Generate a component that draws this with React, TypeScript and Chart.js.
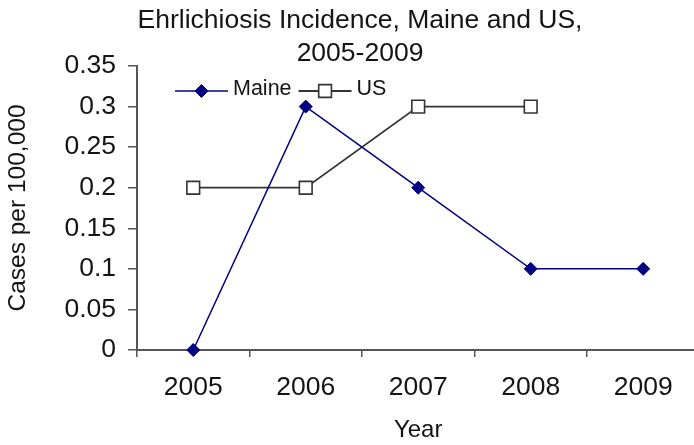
import React, { useEffect, useRef } from 'react';
import { Chart, registerables } from 'chart.js';

Chart.register(...registerables);

const years = ['2005', '2006', '2007', '2008', '2009'];
const maineValues = [0, 0.3, 0.2, 0.1, 0.1];
const usValues: (number | null)[] = [0.2, 0.2, 0.3, 0.3, null];
const yTickLabels = ['0', '0.05', '0.1', '0.15', '0.2', '0.25', '0.3', '0.35'];
const titleLines = ['Ehrlichiosis Incidence, Maine and US,', '2005-2009'];
const xTitle = 'Year';
const yTitle = 'Cases per 100,000';

const FONT = "'Liberation Sans', Arial, sans-serif";
const TEXT = '#141414';
const AXIS = '#555555';

function drawMarker(ctx: CanvasRenderingContext2D, style: string, x: number, y: number, r: number, fill: string, stroke: string, lw: number) {
  ctx.save();
  ctx.beginPath();
  if (style === 'rectRot') {
    ctx.moveTo(x - r, y);
    ctx.lineTo(x, y - r);
    ctx.lineTo(x + r, y);
    ctx.lineTo(x, y + r);
    ctx.closePath();
  } else {
    const s = Math.SQRT1_2 * r;
    ctx.rect(x - s, y - s, 2 * s, 2 * s);
  }
  ctx.fillStyle = fill;
  ctx.fill();
  ctx.lineWidth = lw;
  ctx.strokeStyle = stroke;
  ctx.stroke();
  ctx.restore();
}

const titlePlugin = {
  id: 'customTitle',
  afterDraw(chart: any) {
    const ctx = chart.ctx as CanvasRenderingContext2D;
    ctx.save();
    ctx.font = `26.5px ${FONT}`;
    ctx.fillStyle = TEXT;
    ctx.textAlign = 'center';
    ctx.textBaseline = 'alphabetic';
    const cx = 360;
    titleLines.forEach((line, i) => ctx.fillText(line, cx, 28 + i * 33));
    ctx.restore();
  },
};

const legendPlugin = {
  id: 'customLegend',
  afterDraw(chart: any) {
    const ctx = chart.ctx as CanvasRenderingContext2D;
    const area = chart.chartArea;
    let x = area.left + 38;
    const y = area.top + 25;
    ctx.save();
    ctx.font = `21.5px ${FONT}`;
    chart.data.datasets.forEach((ds: any) => {
      const lineLen = 53;
      ctx.beginPath();
      ctx.moveTo(x, y);
      ctx.lineTo(x + lineLen, y);
      ctx.strokeStyle = ds.borderColor;
      ctx.lineWidth = ds.borderWidth;
      ctx.stroke();
      drawMarker(ctx, ds.pointStyle, x + lineLen / 2, y, ds.pointRadius, ds.pointBackgroundColor, ds.pointBorderColor, ds.pointBorderWidth);
      ctx.fillStyle = TEXT;
      ctx.textAlign = 'left';
      ctx.textBaseline = 'alphabetic';
      const tx = x + lineLen + 5;
      ctx.fillText(ds.label, tx, y + 4);
      x = tx + ctx.measureText(ds.label).width + 7;
    });
    ctx.restore();
  },
};

export default function App() {
  const ref = useRef<HTMLCanvasElement | null>(null);

  useEffect(() => {
    if (!ref.current) return;
    const chart = new Chart(ref.current, {
      type: 'line',
      data: {
        labels: years,
        datasets: [
          {
            label: 'Maine',
            data: maineValues,
            borderColor: '#000080',
            backgroundColor: '#000080',
            borderWidth: 1.5,
            pointStyle: 'rectRot',
            pointRadius: 6.5,
            pointHoverRadius: 6.5,
            pointBackgroundColor: '#000080',
            pointBorderColor: '#000080',
            pointBorderWidth: 1,
            tension: 0,
            clip: false,
          } as any,
          {
            label: 'US',
            data: usValues,
            borderColor: '#333333',
            backgroundColor: '#ffffff',
            borderWidth: 1.8,
            pointStyle: 'rect',
            pointRadius: 9,
            pointHoverRadius: 9,
            pointBackgroundColor: '#ffffff',
            pointBorderColor: '#333333',
            pointBorderWidth: 1.6,
            tension: 0,
            spanGaps: false,
            clip: false,
          } as any,
        ],
      },
      options: {
        animation: false,
        responsive: false,
        devicePixelRatio: 1,
        layout: { padding: { top: 66, right: 2, bottom: 0, left: 0 } },
        plugins: {
          legend: { display: false },
          title: { display: false },
          tooltip: { enabled: false },
        },
        scales: {
          x: {
            type: 'category',
            offset: true,
            grid: {
              display: true,
              drawOnChartArea: false,
              drawTicks: true,
              tickLength: 7,
              offset: true,
              color: AXIS,
              lineWidth: 1.5,
            },
            border: { display: true, color: AXIS, width: 2 },
            ticks: {
              font: { size: 26.5, family: FONT },
              color: TEXT,
              padding: 15,
              maxRotation: 0,
              autoSkip: false,
            },
            title: {
              display: true,
              text: xTitle,
              font: { size: 24, family: FONT },
              color: TEXT,
              padding: { top: 0, bottom: 0 },
            },
            afterFit: (s: any) => {
              s.height = 95;
            },
          },
          y: {
            min: 0,
            max: 0.35,
            grid: {
              display: true,
              drawOnChartArea: false,
              drawTicks: true,
              tickLength: 9,
              color: AXIS,
              lineWidth: 1.5,
            },
            border: { display: true, color: AXIS, width: 2 },
            ticks: {
              stepSize: 0.05,
              font: { size: 26.5, family: FONT },
              color: TEXT,
              padding: 12,
              callback: (_v: any, i: number) => yTickLabels[i],
            },
            title: {
              display: true,
              text: yTitle,
              font: { size: 24.5, family: FONT },
              color: TEXT,
              padding: { top: 4, bottom: 0 },
            },
            afterFit: (s: any) => {
              s.width = 137;
            },
          },
        },
      } as any,
      plugins: [titlePlugin, legendPlugin],
    });
    return () => chart.destroy();
  }, []);

  return (
    <div
      style={{
        position: 'fixed',
        left: 0,
        top: 0,
        width: 694,
        height: 445,
        overflow: 'hidden',
        background: '#ffffff',
      }}
    >
      <canvas ref={ref} width={710} height={445} style={{ display: 'block' }} />
    </div>
  );
}
